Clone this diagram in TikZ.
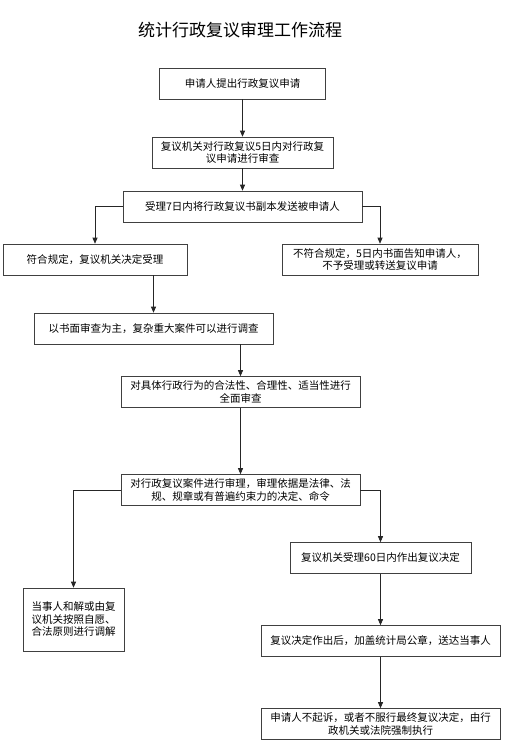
\documentclass[tikz,border=0pt]{standalone}
\usepackage{fontspec}
\setmainfont{Noto Sans CJK SC}
\usetikzlibrary{arrows.meta}

\tikzset{
  box/.style={draw=black!75, line width=0.6pt, align=center, inner sep=1pt,
    minimum height=31pt, font=\fontsize{10.5}{12.5}\selectfont},
  arr/.style={draw=black!85, line width=0.7pt, -{Triangle[width=5pt,length=6pt]}}
}

\begin{document}
\begin{tikzpicture}[x=1pt,y=-1pt]
    \useasboundingbox[fill=white] (0,0) rectangle (514,752);

    % Titol
    \node[font=\fontsize{17}{20}\selectfont] (title) at (240,30) {统计行政复议审理工作流程};

    % Caixes
    \node[box, minimum width=166pt] (apply) at (242.5,83.5) {申请人提出行政复议申请};
    \node[box, minimum width=181pt] (check) at (242.5,152.5) {复议机关对行政复议5日内对行政复\\议申请进行审查};
    \node[box, minimum width=239pt] (send) at (242.5,206.5) {受理7日内将行政复议书副本发送被申请人};
    \node[box, minimum width=184pt] (accept) at (95,259.5) {符合规定，复议机关决定受理};
    \node[box, minimum width=196pt] (reject) at (380,259.5) {不符合规定，5日内书面告知申请人，\\不予受理或转送复议申请};
    \node[box, minimum width=239pt] (written) at (153.5,328.5) {以书面审查为主，复杂重大案件可以进行调查};
    \node[box, minimum width=239pt] (review) at (240.5,392) {对具体行政行为的合法性、合理性、适当性进行\\全面审查};
    \node[box, minimum width=239pt] (hearing) at (240.5,490) {对行政复议案件进行审理，审理依据是法律、法\\规、规章或有普遍约束力的决定、命令};
    \node[box, minimum width=181pt] (decide) at (380.5,558) {复议机关受理60日内作出复议决定};
    \node[box, minimum width=101pt, minimum height=63pt] (mediate) at (73.5,619.5) {当事人和解或由复\\议机关按照自愿、\\合法原则进行调解};
    \node[box, minimum width=239pt] (deliver) at (380.5,641) {复议决定作出后，加盖统计局公章，送达当事人};
    \node[box, minimum width=239pt] (enforce) at (380.5,724) {申请人不起诉，或者不服行最终复议决定，由行\\政机关或法院强制执行};

    % Fletxes
    \draw[arr] (apply) -- (check);
    \draw[arr] (check) -- (send);
    \draw[arr] (send.west) -| (accept.north);
    \draw[arr] (send.east) -| (reject.north);
    \draw[arr] (accept.south -| written.north) -- (written.north);
    \draw[arr] (written.south -| review.north) -- (review.north);
    \draw[arr] (review) -- (hearing);
    \draw[arr] (hearing.west) -| (mediate.north);
    \draw[arr] (hearing.east) -| (decide.north);
    \draw[arr] (decide) -- (deliver);
    \draw[arr] (deliver) -- (enforce);
\end{tikzpicture}
\end{document}
